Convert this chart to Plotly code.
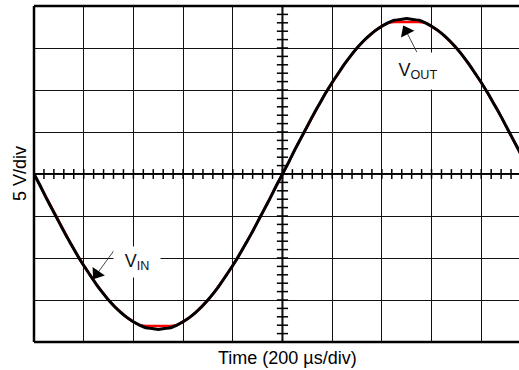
import plotly.graph_objects as go

# ---- data ----
TIME_US = [0, 25, 50, 75, 100, 125, 150, 175, 200, 225, 250, 275, 300, 325, 350, 375,
           400, 425, 450, 475, 500, 525, 550, 575, 600, 625, 650, 675, 700, 725, 750, 775,
           800, 825, 850, 875, 900, 925, 950, 975, 1000, 1025, 1050, 1075, 1100, 1125, 1150,
           1175, 1200, 1225, 1250, 1275, 1300, 1325, 1350, 1375, 1400, 1425, 1450, 1475, 1500,
           1525, 1550, 1575, 1600, 1625, 1650, 1675, 1700, 1725, 1750, 1775, 1800, 1825, 1850,
           1875, 1900, 1925, 1950, 1975, 2000]

VIN_V = [0, -1.4, -2.9, -4.3, -5.7, -7.1, -8.4, -9.7, -10.9, -12.0, -13.1, -14.1, -15.0, -15.8,
         -16.5, -17.1, -17.6, -18.0, -18.3, -18.4, -18.5, -18.4, -18.3, -18.0, -17.6, -17.1,
         -16.5, -15.8, -15.0, -14.1, -13.1, -12.0, -10.9, -9.7, -8.4, -7.1, -5.7, -4.3, -2.9,
         -1.4, 0,
         1.4, 2.9, 4.3, 5.7, 7.1, 8.4, 9.7, 10.9, 12.0, 13.1, 14.1, 15.0, 15.8, 16.5, 17.1,
         17.6, 18.0, 18.3, 18.4, 18.5, 18.4, 18.3, 18.0, 17.6, 17.1, 16.5, 15.8, 15.0, 14.1,
         13.1, 12.0, 10.9, 9.7, 8.4, 7.1, 5.7, 4.3, 2.9, 1.4, 0]

VOUT_V = [0, -1.4, -2.9, -4.3, -5.7, -7.1, -8.4, -9.7, -10.9, -12.0, -13.1, -14.1, -15.0, -15.8,
          -16.5, -17.1, -17.6, -18.0, -18.1, -18.1, -18.1, -18.1, -18.1, -18.0, -17.6, -17.1,
          -16.5, -15.8, -15.0, -14.1, -13.1, -12.0, -10.9, -9.7, -8.4, -7.1, -5.7, -4.3, -2.9,
          -1.4, 0,
          1.4, 2.9, 4.3, 5.7, 7.1, 8.4, 9.7, 10.9, 12.0, 13.1, 14.1, 15.0, 15.8, 16.5, 17.1,
          17.6, 18.0, 18.1, 18.1, 18.1, 18.1, 18.1, 18.0, 17.6, 17.1, 16.5, 15.8, 15.0, 14.1,
          13.1, 12.0, 10.9, 9.7, 8.4, 7.1, 5.7, 4.3, 2.9, 1.4, 0]

X_TITLE = "Time (200 µs/div)"
Y_TITLE = "5 V/div"

# label pointers (tail -> tip), in data units, plus head direction (deg clockwise from up)
VIN_ARROW_T = [322, 241]
VIN_ARROW_V = [-9.1, -12.4]
VIN_HEAD = (253, -11.9, 215)
VOUT_ARROW_T = [1541, 1489]
VOUT_ARROW_V = [14.5, 17.5]
VOUT_HEAD = (1498, 17.0, 333)

# ---- graticule settings ----
T_DIV = 200      # µs per division
V_DIV = 5        # V per division
X_MAX = 1952     # visible part of the 10-division screen
Y_MIN, Y_MAX = -20, 20
T_CENTER = 1000

x_minor = [i * T_DIV / 5 for i in range(int(X_MAX / (T_DIV / 5)) + 1)]
y_minor = [Y_MIN + i * V_DIV / 5 for i in range(int((Y_MAX - Y_MIN) / (V_DIV / 5)) + 1)]

fig = go.Figure()

# minor ticks on the centre axes
fig.add_trace(go.Scatter(x=x_minor, y=[0] * len(x_minor), mode="markers",
                         marker=dict(symbol="line-ns", size=7, color="black",
                                     line=dict(color="black", width=1.5)),
                         hoverinfo="skip", showlegend=False, cliponaxis=False))
fig.add_trace(go.Scatter(x=[T_CENTER] * len(y_minor), y=y_minor, mode="markers",
                         marker=dict(symbol="line-ew", size=8, color="black",
                                     line=dict(color="black", width=1.5)),
                         hoverinfo="skip", showlegend=False, cliponaxis=False))

# traces
fig.add_trace(go.Scatter(x=TIME_US, y=VOUT_V, mode="lines",
                         line=dict(color="#ff0000", width=2.5),
                         hoverinfo="skip", showlegend=False))
fig.add_trace(go.Scatter(x=TIME_US, y=VIN_V, mode="lines",
                         line=dict(color="black", width=3, shape="spline", smoothing=0.6),
                         hoverinfo="skip", showlegend=False))

# label pointers
for tx, ty, head in ((VIN_ARROW_T, VIN_ARROW_V, VIN_HEAD),
                     (VOUT_ARROW_T, VOUT_ARROW_V, VOUT_HEAD)):
    fig.add_trace(go.Scatter(x=tx, y=ty, mode="lines",
                             line=dict(color="#333", width=0.9),
                             hoverinfo="skip", showlegend=False))
    fig.add_trace(go.Scatter(x=[head[0]], y=[head[1]], mode="markers",
                             marker=dict(symbol="triangle-up", size=13, angle=head[2],
                                         color="black", line=dict(width=0)),
                             hoverinfo="skip", showlegend=False))

shapes = [
    dict(type="line", xref="x", yref="y", x0=T_CENTER, x1=T_CENTER, y0=Y_MIN, y1=Y_MAX,
         line=dict(color="black", width=2), layer="below"),
    dict(type="line", xref="x", yref="y", x0=0, x1=X_MAX, y0=0, y1=0,
         line=dict(color="black", width=2), layer="below"),
    # frame
    dict(type="line", xref="paper", yref="paper", x0=0, x1=0, y0=0, y1=1,
         line=dict(color="black", width=2.5)),
    dict(type="line", xref="paper", yref="paper", x0=0, x1=1, y0=1, y1=1,
         line=dict(color="black", width=2.5)),
    dict(type="line", xref="paper", yref="paper", x0=0, x1=1, y0=0, y1=0,
         line=dict(color="black", width=2.5)),
]

font_family = "Liberation Sans, Arial, sans-serif"

annotations = [
    # labels
    dict(x=414, y=-10.5, xref="x", yref="y", text="V<sub>IN</sub>", showarrow=False,
         font=dict(size=18, color="#111", family=font_family), bgcolor="white",
         width=38, height=22, borderpad=4),
    dict(x=1545, y=12.3, xref="x", yref="y", text="V<sub>OUT</sub>", showarrow=False,
         font=dict(size=18, color="#111", family=font_family), bgcolor="white",
         width=52, height=28, borderpad=4),
    # axis titles
    dict(x=T_CENTER, y=0, xref="x", yref="paper", text=X_TITLE, showarrow=False,
         xanchor="center", yanchor="top", xshift=5, yshift=-4,
         font=dict(size=18, color="black", family=font_family)),
    dict(x=0, y=0.5, xref="paper", yref="paper", text=Y_TITLE, showarrow=False,
         textangle=-90, xanchor="center", yanchor="middle", xshift=-14,
         font=dict(size=18, color="black", family=font_family)),
]

fig.update_layout(
    width=519, height=370,
    margin=dict(l=34, r=0, t=6, b=28, pad=0),
    paper_bgcolor="white", plot_bgcolor="white",
    showlegend=False,
    shapes=shapes,
    annotations=annotations,
    xaxis=dict(range=[0, X_MAX], dtick=T_DIV, tick0=0, showgrid=True, gridcolor="#111",
               gridwidth=1.2, zeroline=False, showticklabels=False, ticks="",
               showline=False, fixedrange=True),
    yaxis=dict(range=[Y_MIN, Y_MAX], dtick=V_DIV, tick0=0, showgrid=True, gridcolor="#111",
               gridwidth=1.2, zeroline=False, showticklabels=False, ticks="",
               showline=False, fixedrange=True),
)

fig.write_html("out.html", config={"displayModeBar": False},
               post_script="document.body.style.margin='0';document.body.style.padding='0';")
